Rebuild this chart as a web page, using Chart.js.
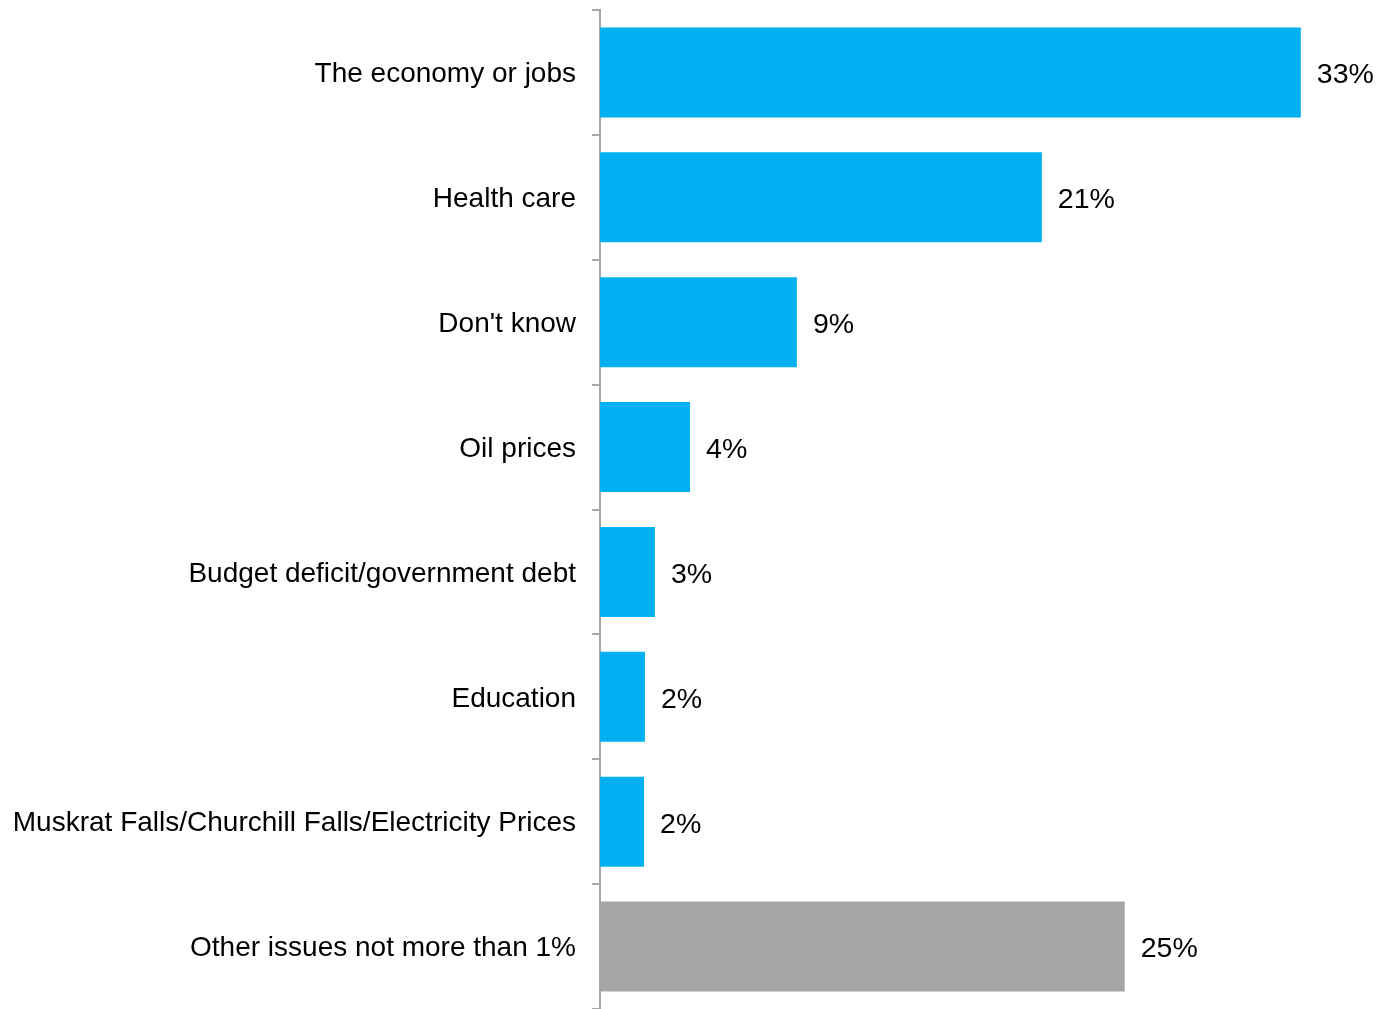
<!DOCTYPE html>
<html>
<head>
<meta charset="utf-8">
<script src="https://cdn.jsdelivr.net/npm/chart.js@4"></script>
<style>
    html, body { margin: 0; padding: 0; background: #fff; }
    #wrap { position: relative; width: 1382px; height: 1009px; }
</style>
</head>
<body>
<div id="wrap"><canvas id="chart"></canvas></div>
<script>
// Chart data
const categories = [
    'The economy or jobs',
    'Health care',
    "Don't know",
    'Oil prices',
    'Budget deficit/government debt',
    'Education',
    'Muskrat Falls/Churchill Falls/Electricity Prices',
    'Other issues not more than 1%'
];
const values = [33.07, 20.85, 9.29, 4.25, 2.59, 2.12, 2.08, 24.76];
const valueLabels = ['33%', '21%', '9%', '4%', '3%', '2%', '2%', '25%'];
const barColors = ['#00B0F0', '#00B0F0', '#00B0F0', '#00B0F0', '#00B0F0', '#00B0F0', '#00B0F0', '#A5A5A5'];

const FONT = 'Arial, "Liberation Sans", sans-serif';

// Draw the percentage label just past the end of each bar
const valueLabelPlugin = {
    id: 'valueLabels',
    afterDatasetsDraw(chart) {
        const ctx = chart.ctx;
        const meta = chart.getDatasetMeta(0);
        ctx.save();
        ctx.font = '28.5px ' + FONT;
        ctx.fillStyle = '#000';
        ctx.textAlign = 'left';
        ctx.textBaseline = 'middle';
        meta.data.forEach((bar, i) => {
            ctx.fillText(valueLabels[i], bar.x + 16, bar.y + 3);
        });
        ctx.restore();
    }
};

const ctx = document.getElementById('chart').getContext('2d');
new Chart(ctx, {
    type: 'bar',
    data: {
        labels: categories,
        datasets: [{
            data: values,
            backgroundColor: barColors,
            borderWidth: 0,
            categoryPercentage: 0.72,
            barPercentage: 1
        }]
    },
    options: {
        indexAxis: 'y',
        responsive: true,
        maintainAspectRatio: false,
        animation: false,
        layout: { padding: { top: 10, bottom: -1, left: 0, right: 0 } },
        plugins: {
            legend: { display: false },
            tooltip: { enabled: false }
        },
        scales: {
            x: {
                display: false,
                min: 0,
                max: 36.9
            },
            y: {
                afterFit: (scale) => {
                    scale.width = 600;
                    // labels sit inside their bands, no extra room needed
                    scale.paddingTop = 0;
                    scale.paddingBottom = 0;
                },
                border: { display: true, color: '#A6A6A6', width: 2 },
                grid: {
                    drawOnChartArea: false,
                    drawTicks: true,
                    tickLength: 8,
                    color: '#A6A6A6',
                    lineWidth: 2
                },
                ticks: {
                    color: '#000',
                    padding: 16,
                    labelOffset: 2,
                    font: { family: FONT, size: 28 }
                }
            }
        }
    },
    plugins: [valueLabelPlugin]
});
</script>
</body>
</html>
